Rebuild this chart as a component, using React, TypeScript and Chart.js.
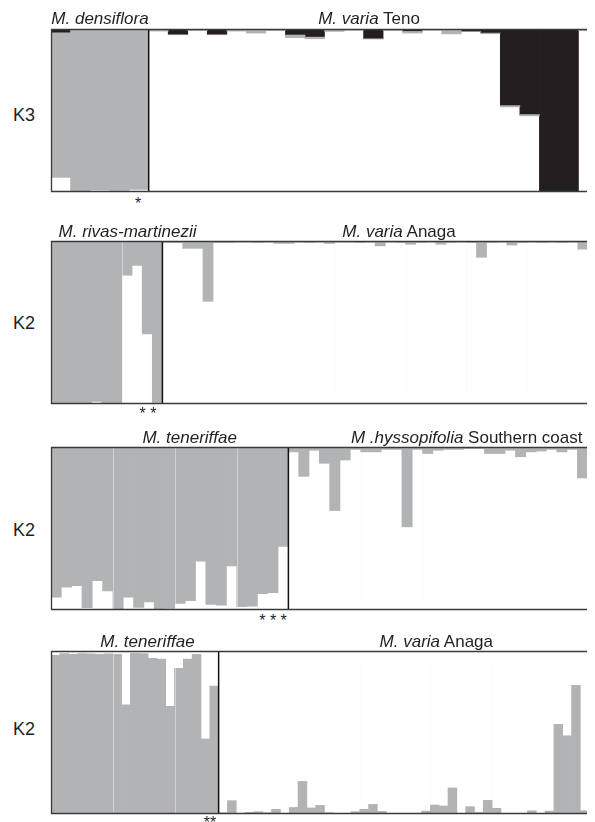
import React, { useEffect, useRef } from "react";
import { Chart, registerables } from "chart.js";

Chart.register(...registerables);

const GRAY = "#b2b3b5";
const BLACK = "#231f20";
const FONT = '"Liberation Sans", Arial, Helvetica, sans-serif';

// ---- Panel 1 (K3): M. densiflora (5) | M. varia Teno (23)
const k3GroupSizes = [5, 23];
const k3Gray = [
  0.887, 0.995, 0.983, 0.985, 0.979,
  0.005, 0.0, 0.01, 0.0, 0.01, 0.025, 0.01, 0.016, 0.01, 0.015, 0.005, 0.0,
  0.01, 0.01, 0.005, 0.03, 0.0, 0.0, 0.008, 0.008, 0.0, 0.0, 0.01,
];
const k3Black = [
  0.023, 0.005, 0.005, 0.005, 0.005,
  0.008, 0.035, 0.0, 0.035, 0.003, 0.0, 0.0, 0.037, 0.05, 0.0, 0.003, 0.06,
  0.0, 0.015, 0.003, 0.0, 0.015, 0.025, 0.47, 0.525, 1.0, 1.0, 0.0,
];

// ---- Panel 2 (K2): M. rivas-martinezii (11) | M. varia Anaga (43)
const rivasGroupSizes = [11, 43];
const rivasGray = [
  1, 1, 1, 1, 0.984, 1, 1, 0.21, 0.15, 0.57, 0.99,
  0.01, 0.01, 0.045, 0.045, 0.37, 0.01, 0.01, 0.008, 0.008, 0.01, 0.008, 0.015,
  0.015, 0.008, 0.01, 0.008, 0.015, 0.008, 0.008, 0.01, 0.008, 0.03, 0.008,
  0.01, 0.02, 0.01, 0.008, 0.02, 0.01, 0.008, 0.01, 0.1, 0.01, 0.008, 0.025,
  0.01, 0.008, 0.01, 0.008, 0.01, 0.008, 0.05, 0.008,
];

// ---- Panel 3 (K2): M. teneriffae (23) | M. hyssopifolia Southern coast (30)
const hyssGroupSizes = [23, 30];
const hyssGray = [
  0.922, 0.86, 0.85, 0.986, 0.82, 0.883, 0.994, 0.922, 0.984, 0.95, 0.994, 0.99,
  0.96, 0.943, 0.7, 0.965, 0.97, 0.73, 0.98, 0.977, 0.9, 0.893, 0.61,
  0.03, 0.18, 0.02, 0.1, 0.39, 0.08, 0.015, 0.03, 0.03, 0.015, 0.015, 0.49,
  0.015, 0.04, 0.02, 0.015, 0.015, 0.01, 0.01, 0.04, 0.04, 0.02, 0.06, 0.03,
  0.025, 0.015, 0.03, 0.015, 0.19, 0.015,
];

// ---- Panel 4 (K2): M. teneriffae (19) | M. varia Anaga (43)
const anagaGroupSizes = [19, 43];
const anagaGray = [
  0.973, 0.984, 0.98, 0.984, 0.982, 0.98, 0.982, 0.98, 0.67, 0.986, 0.984,
  0.955, 0.95, 0.66, 0.893, 0.95, 0.98, 0.46, 0.785,
  0.008, 0.082, 0.004, 0.01, 0.014, 0.008, 0.029, 0.004, 0.04, 0.2, 0.037,
  0.053, 0.008, 0.002, 0.002, 0.014, 0.029, 0.059, 0.016, 0.004, 0.002, 0.002,
  0.002, 0.018, 0.055, 0.049, 0.16, 0.004, 0.045, 0.01, 0.084, 0.035, 0.004,
  0.004, 0.004, 0.02, 0.004, 0.018, 0.55, 0.48, 0.79, 0.02, 0.053,
];

type PanelCfg = {
  gray: number[];
  black?: number[];
  grayOnTop: boolean;
  groups: number[];
  light: number[];
  faint: number[];
  top: number;
};

const panels: PanelCfg[] = [
  { gray: k3Gray, black: k3Black, grayOnTop: true, groups: k3GroupSizes, light: [], faint: [], top: 21 },
  { gray: rivasGray, grayOnTop: true, groups: rivasGroupSizes, light: [7], faint: [28, 35, 41, 47], top: 233 },
  { gray: hyssGray, grayOnTop: true, groups: hyssGroupSizes, light: [6, 12, 18], faint: [30, 36], top: 439 },
  { gray: anagaGray, grayOnTop: false, groups: anagaGroupSizes, light: [7, 14], faint: [35, 43, 50], top: 643 },
];

const CANVAS_W = 549;
const CANVAS_H = 167;

function PanelChart({ cfg }: { cfg: PanelCfg }) {
  const ref = useRef<HTMLCanvasElement | null>(null);
  useEffect(() => {
    if (!ref.current) return;
    const labels = cfg.gray.map((_, i) => String(i + 1));
    const black = cfg.black || cfg.gray.map(() => 0);
    const datasets: any[] = [];
    if (cfg.grayOnTop) {
      datasets.push({ data: cfg.gray.map((g, i) => Math.max(0, 1 - g - black[i])), backgroundColor: "rgba(255,255,255,0)" });
      datasets.push({ data: cfg.gray, backgroundColor: GRAY });
      if (cfg.black) datasets.push({ data: black, backgroundColor: BLACK });
    } else {
      datasets.push({ data: cfg.gray, backgroundColor: GRAY });
    }
    const frame = {
      id: "frame",
      afterDatasetsDraw(chart: any) {
        const { ctx, chartArea } = chart;
        const xs = chart.scales.x;
        const { left, right, top, bottom } = chartArea;
        const bx = (k: number) => xs.getPixelForValue(k - 0.5);
        ctx.save();
        // faint dotted separators
        ctx.strokeStyle = "#f1f1f1";
        ctx.lineWidth = 1;
        ctx.setLineDash([1, 3]);
        cfg.faint.forEach((k) => {
          const x = Math.round(bx(k)) + 0.5;
          ctx.beginPath();
          ctx.moveTo(x, top + 10);
          ctx.lineTo(x, bottom - 10);
          ctx.stroke();
        });
        ctx.setLineDash([]);
        // light separators
        ctx.strokeStyle = "rgba(255,255,255,0.4)";
        cfg.light.forEach((k) => {
          const x = Math.round(bx(k)) + 0.5;
          ctx.beginPath();
          ctx.moveTo(x, top);
          ctx.lineTo(x, bottom);
          ctx.stroke();
        });
        // species divider
        ctx.strokeStyle = "#111";
        ctx.lineWidth = 1.5;
        let acc = 0;
        cfg.groups.slice(0, -1).forEach((g) => {
          acc += g;
          const x = bx(acc);
          ctx.beginPath();
          ctx.moveTo(x, top);
          ctx.lineTo(x, bottom);
          ctx.stroke();
        });
        // frame
        ctx.strokeStyle = "#3a3a3a";
        ctx.lineWidth = 1.3;
        ctx.beginPath();
        ctx.moveTo(right + 5, top + 0.5);
        ctx.lineTo(left + 0.5, top + 0.5);
        ctx.lineTo(left + 0.5, bottom - 0.5);
        ctx.lineTo(right + 5, bottom - 0.5);
        ctx.stroke();
        ctx.restore();
      },
    };
    const chart = new Chart(ref.current, {
      type: "bar",
      data: { labels, datasets },
      options: {
        animation: false,
        responsive: false,
        devicePixelRatio: 1,
        layout: { padding: { left: 2, top: 2, bottom: 2, right: 0 } },
        plugins: { legend: { display: false }, tooltip: { enabled: false } },
        datasets: { bar: { barPercentage: 1, categoryPercentage: 1, borderWidth: 0 } },
        scales: {
          x: { display: false, stacked: true },
          y: { display: false, stacked: true, min: 0, max: 1 },
        },
      } as any,
      plugins: [frame],
    });
    return () => chart.destroy();
  }, [cfg]);
  return (
    <canvas
      ref={ref}
      width={CANVAS_W}
      height={CANVAS_H}
      style={{ position: "absolute", left: 41, top: cfg.top - 2, width: CANVAS_W, height: CANVAS_H }}
    />
  );
}

const txt = (x: number, y: number, size = 17): React.CSSProperties => ({
  position: "absolute",
  left: x,
  top: y,
  transform: "translate(-50%, -50%)",
  whiteSpace: "nowrap",
  fontFamily: FONT,
  fontSize: size,
  lineHeight: 1,
  color: "#231f20",
});

export default function App() {
  return (
    <div style={{ position: "relative", width: 587, height: 814, overflow: "hidden", background: "#fff" }}>
      {panels.map((p, i) => (
        <PanelChart key={i} cfg={p} />
      ))}
      {/* K labels */}
      <div style={txt(16, 107, 18)}>K3</div>
      <div style={txt(16, 315, 18)}>K2</div>
      <div style={txt(16, 522, 18)}>K2</div>
      <div style={txt(16, 721, 18)}>K2</div>
      {/* Panel 1 */}
      <div style={txt(92, 10)}><i>M. densiflora</i></div>
      <div style={txt(361, 10)}><i>M. varia</i> Teno</div>
      <div style={txt(130, 196, 16)}>*</div>
      {/* Panel 2 */}
      <div style={txt(119.5, 223)}><i>M. rivas-martinezii</i></div>
      <div style={txt(391, 223)}><i>M. varia</i> Anaga</div>
      <div style={txt(140, 406, 16)}>* *</div>
      {/* Panel 3 */}
      <div style={txt(181.7, 429)}><i>M. teneriffae</i></div>
      <div style={txt(458.7, 429)}><i>M .hyssopifolia</i> Southern coast</div>
      <div style={txt(265, 613, 16)}>* * *</div>
      {/* Panel 4 */}
      <div style={txt(139.5, 633)}><i>M. teneriffae</i></div>
      <div style={txt(428.3, 633)}><i>M. varia</i> Anaga</div>
      <div style={txt(202, 815, 16)}>**</div>
    </div>
  );
}
